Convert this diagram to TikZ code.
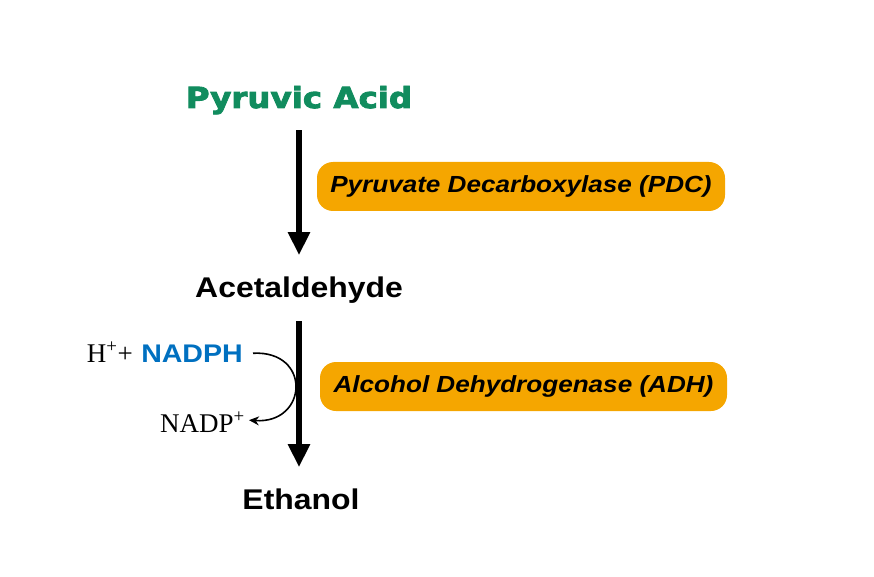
\documentclass[tikz,border=0pt]{standalone}
\usepackage{fontspec}
\usetikzlibrary{arrows.meta,calc}
\newfontfamily\arialb[FakeStretch=1.12]{Liberation Sans}
\newfontfamily\heavyf[FakeStretch=1.12,FakeBold=3]{DejaVu Sans}
\newfontfamily\timesf{Liberation Serif}
\definecolor{pyrgreen}{RGB}{17,140,94}
\definecolor{nadblue}{RGB}{0,112,192}
\definecolor{enzorange}{RGB}{245,166,0}
\tikzset{
  compound/.style={inner sep=0pt, anchor=base, font=\arialb\bfseries\fontsize{28.5}{30}\selectfont},
  enzyme/.style={fill=enzorange, rounded corners=16pt, inner sep=0pt, minimum height=49pt,
    font=\arialb\bfseries\itshape\fontsize{23.3}{26}\selectfont},
  bigarrow/.style={line width=5.5pt, -{Triangle[width=21pt,length=23pt]}},
  smallarrow/.style={line width=1.6pt, -{Stealth[length=10pt,width=9pt]}},
  cofactor/.style={inner sep=0pt, font=\timesf\fontsize{27}{29}\selectfont}
}
\begin{document}
\begin{tikzpicture}[x=1pt,y=-1pt]
\useasboundingbox (0,0) rectangle (874,577);
\node[compound, font=\heavyf\bfseries\fontsize{29}{31}\selectfont, text=pyrgreen] (pyr) at (299,108) {Pyruvic Acid};
\node[compound] (acet) at (299,297) {Acetaldehyde};
\node[compound] (eth) at (301,509) {Ethanol};
\node[enzyme, minimum width=408pt] (pdc) at (521,186.5) {Pyruvate Decarboxylase (PDC)};
\node[enzyme, minimum width=407pt] (adh) at (523.5,386.5) {Alcohol Dehydrogenase (ADH)};
\draw[bigarrow, shorten <=16pt, shorten >=21pt] (pyr.south) -- (pyr.south |- acet.north);
\draw[bigarrow, shorten <=18pt, shorten >=21pt] (acet.south) -- (acet.south |- eth.north);
\node[inner sep=0pt, anchor=base east, text=nadblue, font=\arialb\bfseries\fontsize{25.5}{28}\selectfont] (nadph) at (243,362) {NADPH};
\node[cofactor, anchor=base east] (hplus) at ([xshift=-8pt]nadph.base west) {H\textsuperscript{+}+};
\node[cofactor, anchor=base east] (nadp) at (245,432) {NADP\textsuperscript{+}};
\coordinate (c0) at ([xshift=10pt]nadph.east);
\coordinate (c1) at ([xshift=4pt,yshift=2pt]nadp.east);
\draw[smallarrow] (c0) .. controls ($(c0)+(59,-3)$) and ($(c1)+(59,4)$) .. (c1);
\end{tikzpicture}
\end{document}
